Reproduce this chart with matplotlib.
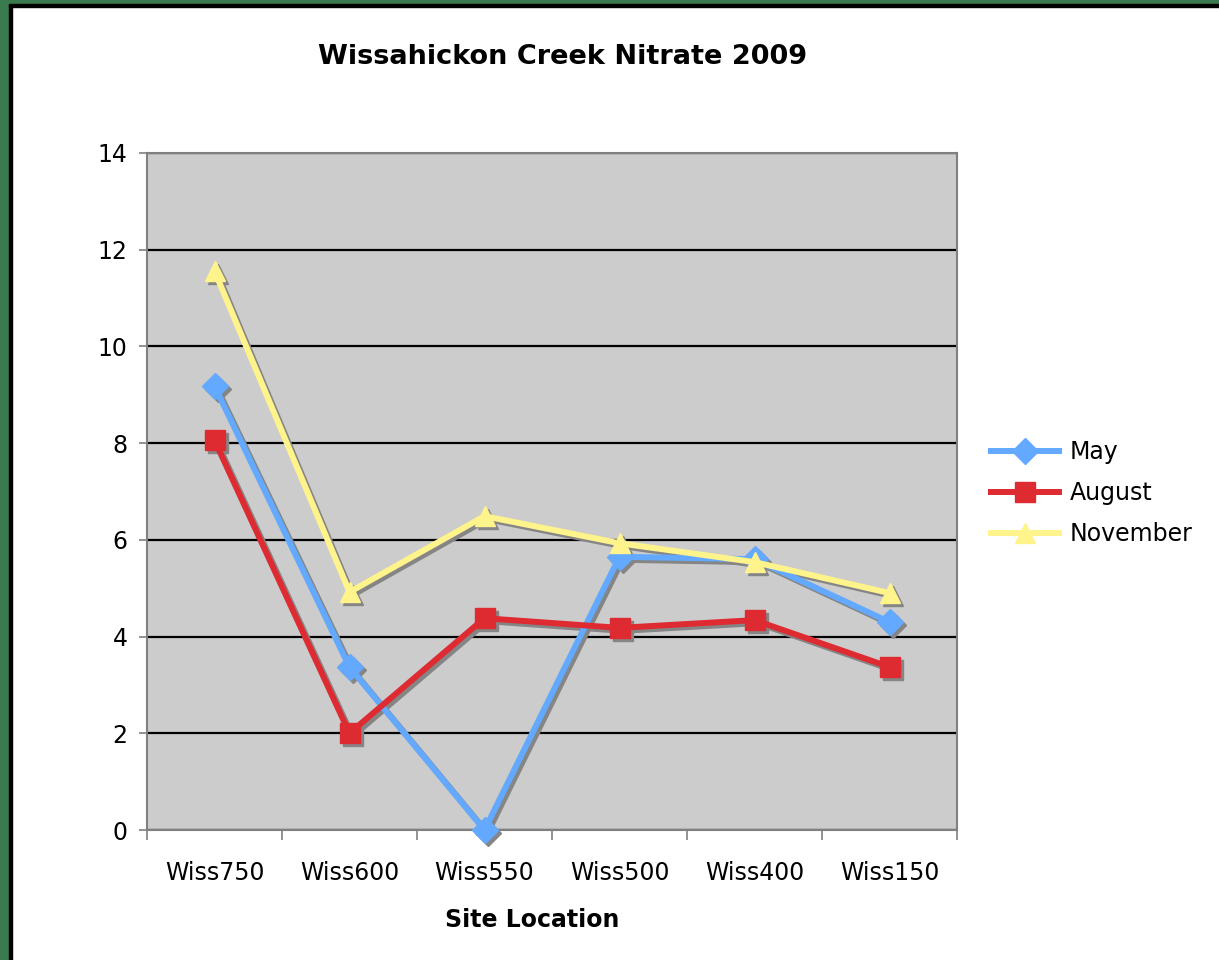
import matplotlib.pyplot as plt
import matplotlib.transforms as mtransforms
from matplotlib.patches import Rectangle

# ── Data ──────────────────────────────────────────────────────────────────────
sites = ["Wiss750", "Wiss600", "Wiss550", "Wiss500", "Wiss400", "Wiss150"]
may = [9.18, 3.37, 0.0, 5.65, 5.6, 4.3]
august = [8.06, 2.0, 4.38, 4.18, 4.34, 3.37]
november = [11.56, 4.92, 6.49, 5.93, 5.54, 4.9]
y_ticks = [0, 2, 4, 6, 8, 10, 12, 14]

COLORS = {
    "may": "#62a9ff",
    "august": "#de2b32",
    "november": "#fff38c",
    "shadow": "#858585",
    "panel": "#cccccc",
    "frame": "#808080",
    "green": "#3b7a4f",
}

W, H = 1219, 960
fig = plt.figure(figsize=(W / 100, H / 100), dpi=100)
fig.patch.set_facecolor("white")

# outer slide border (green strip + black rule on left and top)
fig.patches.append(Rectangle((0, 0), 9 / W, 1, transform=fig.transFigure,
                             color=COLORS["green"], zorder=0))
fig.patches.append(Rectangle((9 / W, 0), 3 / W, 1 - 4 / H, transform=fig.transFigure,
                             color="black", zorder=0))
fig.patches.append(Rectangle((0, 1 - 4 / H), 1, 4 / H, transform=fig.transFigure,
                             color=COLORS["green"], zorder=0))
fig.patches.append(Rectangle((9 / W, 1 - 7 / H), 1, 3 / H, transform=fig.transFigure,
                             color="black", zorder=0))

ax = fig.add_axes([147 / W, 130 / H, 810 / W, 677 / H])
ax.set_facecolor(COLORS["panel"])

x = list(range(len(sites)))
shadow_tr = mtransforms.offset_copy(ax.transData, fig=fig, x=3, y=-3, units="dots")

series = [
    ("May", may, COLORS["may"], "D", 13),
    ("August", august, COLORS["august"], "s", 15),
    ("November", november, COLORS["november"], "^", 15),
]

for name, vals, col, mk, ms in series:
    ax.plot(x, vals, color=COLORS["shadow"], lw=4.3, marker=mk, ms=ms,
            mec=COLORS["shadow"], mfc=COLORS["shadow"], transform=shadow_tr,
            zorder=3, clip_on=False)
for name, vals, col, mk, ms in series:
    ax.plot(x, vals, color=col, lw=4.3, marker=mk, ms=ms, mec=col, mfc=col,
            label=name, zorder=4, clip_on=False)

ax.set_xlim(-0.5, len(sites) - 0.5)
ax.set_ylim(0, 14)
ax.set_yticks(y_ticks)
ax.set_yticklabels([str(v) for v in y_ticks], fontsize=17)
ax.yaxis.grid(True, color="black", lw=1.6, zorder=1)
ax.set_axisbelow(True)

# category labels centred, tick marks between categories (Excel style)
ax.set_xticks(x)
ax.set_xticklabels(sites, fontsize=17)
ax.tick_params(axis="x", length=0, pad=22)
ax.set_xticks([i - 0.5 for i in range(len(sites) + 1)], minor=True)
ax.tick_params(axis="x", which="minor", length=7, width=1.2, color=COLORS["frame"])
ax.tick_params(axis="y", length=6, width=1.2, color=COLORS["frame"], pad=8)

for side in ["left", "right", "top", "bottom"]:
    ax.spines[side].set_color(COLORS["frame"])
    ax.spines[side].set_linewidth(1.5)

fig.text(532 / W, 1 - 920 / H, "Site Location",
         ha="center", va="center", fontsize=17, fontweight="bold")
fig.text(563 / W, 1 - 57 / H, "Wissahickon Creek Nitrate 2009",
         ha="center", va="center", fontsize=19.5, fontweight="bold")

leg = ax.legend(loc="center left", bbox_to_anchor=(1.03, 0.498), frameon=False,
                fontsize=17, handlelength=2.9, handletextpad=0.45, labelspacing=0.72,
                borderaxespad=0)

fig.savefig("out.png", dpi=100)
